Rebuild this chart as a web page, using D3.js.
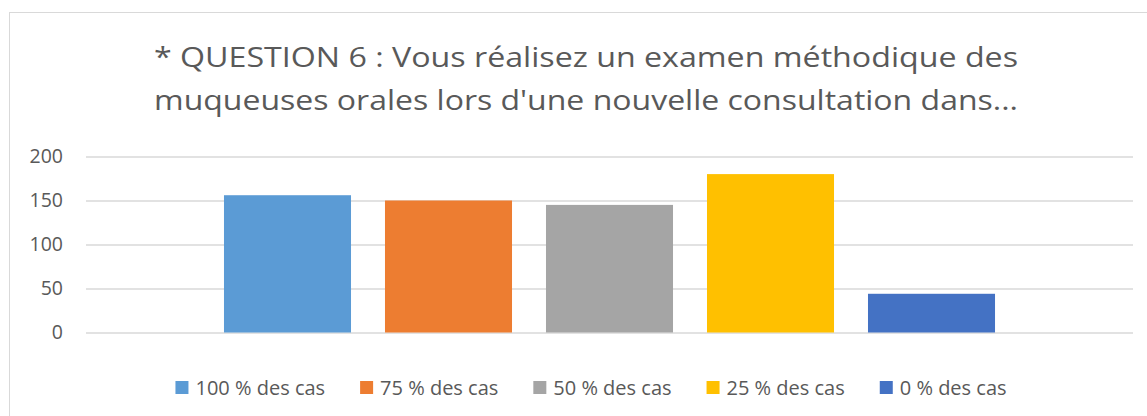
<!DOCTYPE html>
<html>
<head>
<meta charset="utf-8">
<script src="https://cdn.jsdelivr.net/npm/d3@7"></script>
<style>
  body { margin: 0; background: #fff; }
  text { font-family: "Open Sans", sans-serif; fill: #595959; }
</style>
</head>
<body>
<svg id="chart" width="1147" height="416"></svg>
<script>
// data
var titleLines = ["* QUESTION 6 : Vous réalisez un examen méthodique des",
                  "muqueuses orales lors d'une nouvelle consultation dans..."];
var series = ["100 % des cas", "75 % des cas", "50 % des cas", "25 % des cas", "0 % des cas"];
var values = [156, 150, 145, 180, 44];
var colors = ["#5B9BD5", "#ED7D31", "#A5A5A5", "#FFC000", "#4472C4"];
var yTicks = [0, 50, 100, 150, 200];

var svg = d3.select("#chart");

// chart border (runs off right and bottom)
svg.append("rect")
  .attr("x", 9.5).attr("y", 12.5)
  .attr("width", 1150).attr("height", 420)
  .attr("fill", "none").attr("stroke", "#D9D9D9").attr("stroke-width", 1);

var plotLeft = 86, plotRight = 1133, plotTop = 156.5, plotBottom = 332.5;

var y = d3.scaleLinear().domain([0, 200]).range([plotBottom, plotTop]);

var x = d3.scaleBand().domain(series).range([plotLeft, plotRight])
  .paddingInner(0.211).paddingOuter(0.857);

// y axis + gridlines
var yAxis = svg.append("g")
  .attr("transform", "translate(" + plotLeft + ",0)")
  .call(d3.axisLeft(y).tickValues(yTicks).tickSize(-(plotRight - plotLeft)).tickPadding(23));
yAxis.select(".domain").remove();
yAxis.selectAll(".tick line").attr("stroke", "#D9D9D9").attr("stroke-width", 1.5);
yAxis.selectAll(".tick text")
  .style("font-family", "'Open Sans', sans-serif")
  .style("font-size", "19.5px").attr("fill", "#595959");

// bars
svg.append("g").selectAll("rect")
  .data(values)
  .join("rect")
  .attr("x", function(d, i){ return x(series[i]); })
  .attr("width", x.bandwidth())
  .attr("y", function(d){ return y(d); })
  .attr("height", function(d){ return y(0) - y(d); })
  .attr("fill", function(d, i){ return colors[i]; });

// title
var title = svg.append("text")
  .attr("text-anchor", "middle")
  .style("font-size", "28px");
title.selectAll("tspan")
  .data(titleLines)
  .join("tspan")
  .attr("x", 586)
  .attr("y", function(d, i){ return 67 + i * 43; })
  .attr("textLength", 864)
  .attr("lengthAdjust", "spacingAndGlyphs")
  .text(function(d){ return d; });

// legend
var legend = svg.append("g");
var cursor = 0;
series.forEach(function(s, i){
  var item = legend.append("g").attr("transform", "translate(" + cursor + ",0)");
  item.append("rect")
    .attr("x", 0).attr("y", -14).attr("width", 13).attr("height", 13)
    .attr("fill", colors[i]);
  var t = item.append("text")
    .attr("x", 20).attr("y", 0)
    .style("font-size", "20px")
    .text(s);
  cursor += 20 + t.node().getComputedTextLength() + 35;
});
var legendWidth = cursor - 35;
legend.attr("transform", "translate(" + (591 - legendWidth / 2) + ",395)");
</script>
</body>
</html>
